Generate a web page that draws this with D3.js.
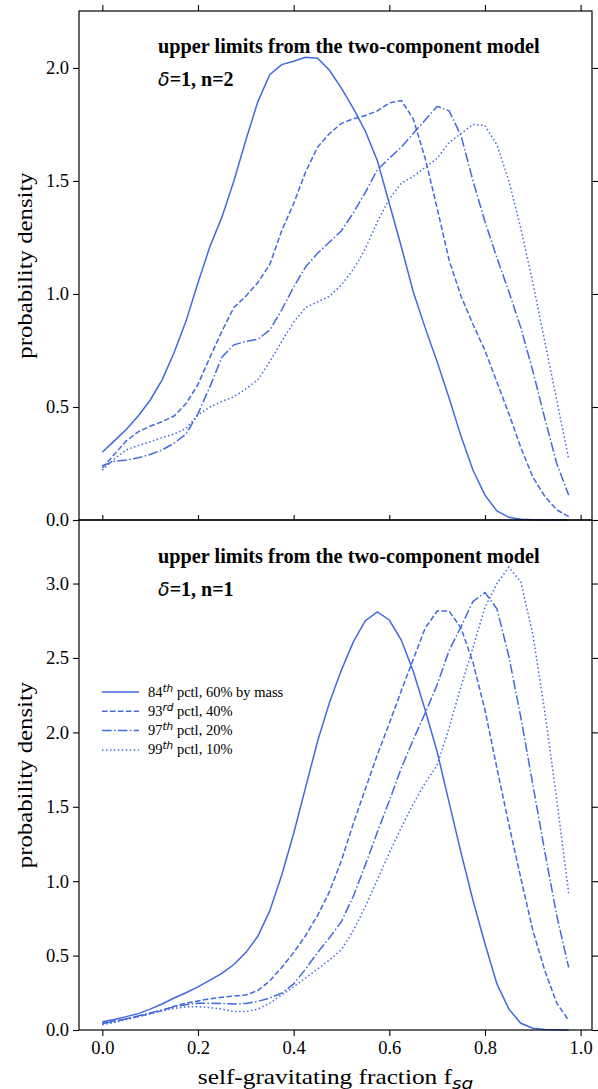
<!DOCTYPE html>
<html><head><meta charset="utf-8">
<script src="https://cdn.jsdelivr.net/npm/d3@7"></script>
<style>
html,body{margin:0;padding:0;background:#fff;}
svg{display:block;}
.tick text{font-family:"Liberation Serif","Times New Roman",serif;font-size:18.5px;fill:#000;}
.tick line{stroke:#000;stroke-width:1.1;}
.domain{display:none;}
</style>
</head><body>
<svg id="chart" width="598" height="1089"></svg>
<script>
// x grid (self-gravitating fraction)
const fsg = [0.000,0.025,0.050,0.075,0.100,0.125,0.150,0.175,0.200,0.225,
             0.250,0.275,0.300,0.325,0.350,0.375,0.400,0.425,0.450,0.475,
             0.500,0.525,0.550,0.575,0.600,0.625,0.650,0.675,0.700,0.725,
             0.750,0.775,0.800,0.825,0.850,0.875,0.900,0.925,0.950,0.975];

// top panel: delta=1, n=2
const top84 = [0.30,0.35,0.40,0.46,0.53,0.62,0.74,0.88,1.05,1.21,
               1.34,1.50,1.68,1.85,1.97,2.015,2.03,2.047,2.043,1.99,
               1.91,1.82,1.72,1.59,1.40,1.21,1.01,0.85,0.70,0.54,
               0.37,0.22,0.11,0.04,0.012,0.003,0.001,0,0,0];
const top93 = [0.23,0.29,0.35,0.39,0.415,0.435,0.46,0.515,0.60,0.72,
               0.835,0.94,0.99,1.05,1.13,1.28,1.40,1.54,1.65,1.71,
               1.755,1.775,1.79,1.81,1.845,1.856,1.775,1.60,1.38,1.15,
               0.99,0.865,0.75,0.61,0.47,0.32,0.19,0.105,0.045,0.015];
const top97 = [0.24,0.26,0.265,0.275,0.29,0.31,0.34,0.38,0.47,0.59,
               0.72,0.775,0.79,0.80,0.84,0.93,1.03,1.12,1.18,1.23,
               1.28,1.36,1.45,1.55,1.60,1.65,1.71,1.77,1.83,1.81,
               1.70,1.50,1.32,1.16,1.01,0.85,0.66,0.45,0.25,0.11];
const top99 = [0.22,0.27,0.31,0.33,0.346,0.365,0.38,0.405,0.465,0.50,
               0.525,0.545,0.58,0.62,0.70,0.79,0.875,0.94,0.965,0.99,
               1.04,1.11,1.20,1.32,1.42,1.49,1.52,1.56,1.60,1.67,
               1.71,1.75,1.745,1.66,1.50,1.29,1.05,0.79,0.53,0.27];

// bottom panel: delta=1, n=1
const bot84 = [0.055,0.07,0.09,0.11,0.14,0.175,0.215,0.25,0.29,0.335,
               0.38,0.44,0.52,0.63,0.80,1.04,1.32,1.63,1.94,2.20,
               2.42,2.61,2.75,2.81,2.755,2.62,2.41,2.15,1.87,1.53,
               1.19,0.87,0.58,0.31,0.14,0.045,0.012,0.003,0.001,0];
const bot93 = [0.045,0.06,0.075,0.09,0.11,0.13,0.16,0.18,0.195,0.21,
               0.22,0.228,0.235,0.265,0.33,0.42,0.52,0.635,0.77,0.93,
               1.14,1.39,1.62,1.85,2.06,2.28,2.49,2.70,2.815,2.815,
               2.70,2.47,2.15,1.76,1.38,1.02,0.67,0.40,0.18,0.065];
const bot97 = [0.045,0.055,0.075,0.095,0.115,0.135,0.155,0.17,0.18,0.18,
               0.178,0.175,0.178,0.192,0.215,0.248,0.31,0.41,0.52,0.62,
               0.73,0.90,1.11,1.33,1.54,1.76,1.95,2.13,2.32,2.55,
               2.71,2.88,2.94,2.83,2.51,2.10,1.65,1.20,0.77,0.42];
const bot99 = [0.035,0.05,0.07,0.09,0.11,0.13,0.145,0.155,0.157,0.15,
               0.14,0.125,0.125,0.14,0.18,0.235,0.29,0.35,0.41,0.47,
               0.54,0.67,0.83,1.01,1.19,1.36,1.52,1.66,1.78,2.03,
               2.31,2.57,2.84,3.00,3.11,3.01,2.66,2.14,1.55,0.92];

const legendNum = ["84","93","97","99"];
const legendSup = ["th","rd","th","th"];
const legendRest = [" pctl, 60% by mass"," pctl, 40%"," pctl, 20%"," pctl, 10%"];

const xTicks = [0.0,0.2,0.4,0.6,0.8,1.0];
const yTicksTop = [0.0,0.5,1.0,1.5,2.0];
const yTicksBot = [0.0,0.5,1.0,1.5,2.0,2.5,3.0];

const titleText = "upper limits from the two-component model";
const topParam = "=1, n=2";
const botParam = "=1, n=1";

// ---------- drawing ----------
const color = "#4169e1";
const dashes = [null, "5.55,2.4", "9.6,2.4,1.5,2.4", "1.5,2.475"];
const serif = "'Liberation Serif','Times New Roman',serif";
const svg = d3.select("#chart");
const L = 79, R = 592;
const x = d3.scaleLinear().domain([-0.04875, 1.02375]).range([L, R]);

const panels = [
  {top:11, bottom:520, ymax:2.252, series:[top84,top93,top97,top99], yt:yTicksTop, param:topParam, titleY:53, paramY:86, legend:false},
  {top:520, bottom:1030, ymax:3.427, series:[bot84,bot93,bot97,bot99], yt:yTicksBot, param:botParam, titleY:563, paramY:596, legend:true}
];

const fmt = d3.format(".1f");

panels.forEach((p, pi) => {
  const y = d3.scaleLinear().domain([0, p.ymax]).range([p.bottom, p.top]);
  const g = svg.append("g");

  // curves
  const line = d3.line().x((d,i)=>x(fsg[i])).y(d=>y(d));
  p.series.forEach((s, si) => {
    g.append("path").datum(s).attr("d", line)
      .attr("fill","none").attr("stroke",color).attr("stroke-width",1.5)
      .attr("stroke-dasharray", dashes[si]);
  });

  // axes
  g.append("g").attr("transform",`translate(${L},0)`)
    .call(d3.axisLeft(y).tickValues(p.yt).tickFormat(fmt).tickSize(6).tickPadding(4));
  g.append("g").attr("transform",`translate(${R},0)`)
    .call(d3.axisRight(y).tickValues(p.yt).tickFormat("").tickSize(6));
  if (pi === 0) {
    g.append("g").attr("transform",`translate(0,${p.top})`)
      .call(d3.axisTop(x).tickValues(xTicks).tickFormat("").tickSize(6));
  } else {
    g.append("g").attr("transform",`translate(0,${p.top})`)
      .call(d3.axisTop(x).tickValues(xTicks).tickFormat("").tickSize(5));
    g.append("g").attr("transform",`translate(0,${p.bottom})`)
      .call(d3.axisBottom(x).tickValues(xTicks).tickFormat(fmt).tickSize(6).tickPadding(5));
  }

  // spines
  g.append("rect").attr("x",L).attr("y",p.top).attr("width",R-L).attr("height",p.bottom-p.top)
    .attr("fill","none").attr("stroke","#000").attr("stroke-width",1.2);

  // y label
  g.append("text").attr("transform",`translate(32,${(p.top+p.bottom)/2}) rotate(-90) scale(1.18,1)`)
    .attr("text-anchor","middle")
    .style("font-family",serif).style("font-size","21px")
    .text("probability density");

  // annotations
  g.append("text").attr("x",158).attr("y",p.titleY)
    .style("font-family",serif).style("font-size","20.3px")
    .style("font-weight","bold").text(titleText);
  const pt = g.append("text").attr("x",158).attr("y",p.paramY)
    .style("font-family",serif).style("font-size","20px")
    .style("font-weight","bold");
  pt.append("tspan").style("font-family","'DejaVu Sans',sans-serif").style("font-style","italic")
    .style("font-weight","normal").style("font-size","19px").text("δ");
  pt.append("tspan").text(p.param);

  // legend
  if (p.legend) {
    legendNum.forEach((n, i) => {
      const ly = 692 + i*19.3;
      g.append("line").attr("x1",102).attr("x2",139).attr("y1",ly).attr("y2",ly)
        .attr("stroke",color).attr("stroke-width",1.5).attr("stroke-dasharray",dashes[i]);
      const t = g.append("text").attr("x",148).attr("y",ly+4.5)
        .style("font-family",serif).style("font-size","14.5px");
      t.append("tspan").text(n);
      t.append("tspan").attr("dy",-5).style("font-size","10.5px").style("font-style","italic")
        .style("font-family","'DejaVu Sans',sans-serif").text(legendSup[i]);
      t.append("tspan").attr("dy",5).text(legendRest[i]);
    });
  }
});

// x label
const xl = svg.append("text").attr("transform",`translate(${(L+R)/2},1084) scale(1.15,1)`)
  .attr("text-anchor","middle")
  .style("font-family",serif).style("font-size","22px");
xl.append("tspan").text("self-gravitating fraction f");
xl.append("tspan").attr("dy",5).style("font-style","italic").style("font-family","'DejaVu Sans',sans-serif")
  .style("font-size","16px").text("sg");
</script>
</body></html>
